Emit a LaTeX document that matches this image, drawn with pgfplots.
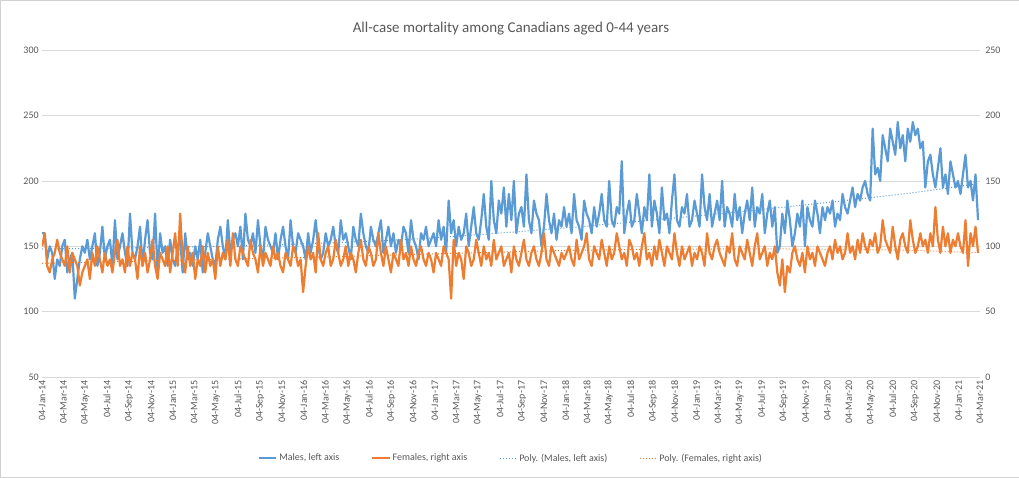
\documentclass[border=0pt]{standalone}
\usepackage{pgfplots}
\pgfplotsset{compat=1.18}
\usepackage{fontspec}
\setmainfont{Carlito}
\definecolor{mblue}{HTML}{5B9BD5}
\definecolor{morange}{HTML}{ED7D31}
\definecolor{tgray}{HTML}{595959}
\begin{document}
\begin{tikzpicture}[x=1pt,y=1pt]
\draw[gray!35,fill=white] (-42,-100) rectangle (977,377);
\pgfplotsset{every axis/.style={scale only axis, width=938pt, height=327pt, at={(0pt,0pt)}, anchor=south west,
 xmin=0, xmax=2616, axis line style={draw=none}, tick style={draw=none},
 tick label style={font=\fontsize{10}{11}\selectfont, color=tgray},
 /pgf/number format/assume math mode=true}}
\begin{axis}[
 ymin=50, ymax=300, ytick={50,100,...,300},
 ymajorgrids, grid style={color=gray!30},
 xtick={0,59,120,181,243,304,365,424,485,546,608,669,730,790,851,912,974,1035,1096,1155,1216,1277,1339,1400,1461,1520,1581,1642,1704,1765,1826,1885,1946,2007,2069,2130,2191,2251,2312,2373,2435,2496,2557,2616},
 xticklabels={04-Jan-14,04-Mar-14,04-May-14,04-Jul-14,04-Sep-14,04-Nov-14,04-Jan-15,04-Mar-15,04-May-15,04-Jul-15,04-Sep-15,04-Nov-15,04-Jan-16,04-Mar-16,04-May-16,04-Jul-16,04-Sep-16,04-Nov-16,04-Jan-17,04-Mar-17,04-May-17,04-Jul-17,04-Sep-17,04-Nov-17,04-Jan-18,04-Mar-18,04-May-18,04-Jul-18,04-Sep-18,04-Nov-18,04-Jan-19,04-Mar-19,04-May-19,04-Jul-19,04-Sep-19,04-Nov-19,04-Jan-20,04-Mar-20,04-May-20,04-Jul-20,04-Sep-20,04-Nov-20,04-Jan-21,04-Mar-21},
 xticklabel style={rotate=90, anchor=east},
 title={All-case mortality among Canadians aged 0-44 years},
 title style={font=\fontsize{15}{17}\selectfont, color=tgray, yshift=6pt},
 legend style={at={(0.5,-0.248)}, anchor=center, draw=none, legend columns=4, font=\fontsize{10}{11}\selectfont\color{tgray}, /tikz/every even column/.append style={column sep=30pt}},
 legend cell align=left,
]
\addplot[mblue, line width=2.2pt, line join=round] table[x expr=\coordindex*7, y index=0, header=false, row sep=\\] {
160\\160\\140\\150\\145\\125\\140\\135\\150\\155\\130\\140\\145\\
110\\125\\140\\150\\145\\155\\140\\150\\160\\135\\145\\165\\140\\
150\\155\\135\\170\\140\\150\\160\\145\\135\\175\\145\\140\\150\\
165\\135\\155\\170\\145\\140\\175\\130\\160\\145\\150\\135\\155\\
140\\135\\150\\155\\130\\160\\140\\145\\135\\150\\140\\155\\130\\
145\\160\\150\\140\\135\\155\\165\\150\\140\\170\\145\\155\\160\\
150\\165\\140\\175\\155\\150\\160\\145\\170\\150\\140\\165\\155\\
150\\145\\160\\140\\155\\165\\150\\140\\170\\150\\145\\160\\155\\
150\\140\\160\\145\\155\\170\\150\\140\\145\\160\\150\\155\\165\\
150\\145\\170\\155\\160\\150\\140\\165\\155\\150\\175\\160\\150\\
145\\165\\155\\150\\160\\170\\145\\155\\165\\150\\160\\145\\155\\
150\\165\\160\\145\\170\\155\\150\\140\\160\\155\\165\\150\\155\\
160\\150\\170\\155\\165\\145\\185\\160\\170\\150\\165\\155\\160\\
175\\150\\165\\180\\160\\155\\170\\190\\165\\155\\200\\170\\160\\
185\\175\\195\\165\\190\\170\\200\\160\\175\\180\\165\\205\\170\\
160\\185\\175\\170\\150\\165\\190\\170\\160\\175\\155\\170\\165\\180\\
165\\175\\160\\190\\170\\165\\155\\185\\175\\170\\160\\180\\165\\
175\\190\\170\\165\\200\\170\\165\\180\\175\\215\\160\\175\\185\\
165\\170\\190\\175\\160\\180\\170\\205\\165\\185\\175\\160\\195\\
170\\175\\160\\185\\205\\170\\165\\180\\175\\190\\165\\170\\185\\
175\\165\\205\\180\\170\\190\\165\\175\\185\\170\\200\\165\\180\\
175\\165\\190\\170\\180\\160\\175\\185\\170\\195\\165\\180\\175\\
190\\160\\175\\185\\165\\180\\145\\150\\175\\160\\185\\170\\150\\
160\\175\\165\\185\\150\\180\\170\\165\\185\\175\\160\\180\\170\\
180\\175\\185\\165\\175\\170\\190\\180\\175\\185\\195\\180\\190\\
185\\195\\200\\190\\185\\240\\205\\210\\200\\235\\225\\215\\240\\
230\\220\\245\\225\\235\\215\\240\\230\\245\\235\\240\\225\\230\\
195\\215\\220\\205\\195\\210\\225\\195\\205\\190\\215\\205\\195\\
200\\190\\205\\220\\195\\200\\185\\205\\170\\
};
\addlegendentry{Males, left axis}
\addlegendimage{morange, line width=2.2pt}
\addlegendentry{Females, right axis}
\addplot[mblue, dotted, line width=1pt, smooth] coordinates {(0,148) (500,150) (1000,155) (1500,165) (2000,178) (2400,190) (2611,198)};
\addlegendentry{Poly. (Males, left axis)}
\addlegendimage{morange, dotted, line width=1pt}
\addlegendentry{Poly. (Females, right axis)}
\end{axis}
\begin{axis}[
 ymin=0, ymax=250, ytick={0,50,...,250}, axis y line*=right, axis x line=none,
 yticklabel style={anchor=west, xshift=2pt}]
\addplot[morange, line width=2.2pt, line join=round] table[x expr=\coordindex*7, y index=0, header=false, row sep=\\] {
100\\110\\85\\80\\90\\95\\105\\95\\90\\85\\100\\80\\95\\
90\\85\\70\\80\\85\\90\\75\\95\\85\\100\\90\\80\\95\\
85\\90\\80\\95\\105\\85\\90\\80\\100\\85\\95\\90\\75\\
100\\85\\95\\80\\90\\105\\85\\75\\95\\90\\85\\100\\80\\
95\\110\\85\\125\\90\\80\\100\\85\\95\\75\\90\\85\\100\\
80\\95\\85\\90\\75\\100\\85\\95\\90\\105\\85\\110\\90\\
85\\100\\95\\90\\85\\105\\95\\90\\80\\100\\85\\95\\90\\
85\\100\\90\\95\\85\\80\\95\\90\\85\\100\\95\\85\\90\\
65\\85\\100\\90\\95\\80\\110\\90\\85\\95\\100\\85\\90\\
105\\95\\85\\90\\100\\85\\95\\90\\80\\95\\105\\90\\85\\
100\\95\\85\\90\\110\\95\\85\\100\\90\\80\\95\\90\\85\\
105\\90\\95\\85\\100\\90\\85\\95\\100\\90\\85\\95\\90\\
80\\95\\90\\85\\100\\95\\90\\60\\105\\85\\95\\90\\75\\
100\\95\\85\\90\\105\\95\\85\\100\\90\\95\\85\\105\\90\\
95\\100\\85\\90\\95\\80\\100\\90\\85\\95\\105\\90\\85\\
95\\100\\90\\85\\95\\110\\90\\85\\100\\95\\90\\85\\95\\90\\
95\\100\\90\\85\\105\\90\\95\\100\\110\\90\\85\\100\\95\\
90\\105\\95\\85\\100\\90\\95\\110\\100\\90\\95\\85\\105\\
100\\90\\95\\85\\100\\110\\90\\95\\85\\100\\90\\105\\95\\
85\\100\\95\\90\\110\\95\\85\\100\\90\\95\\100\\85\\95\\
90\\100\\95\\85\\110\\95\\90\\100\\105\\95\\90\\85\\100\\
95\\110\\90\\85\\100\\95\\90\\105\\95\\85\\100\\110\\90\\
95\\100\\85\\95\\90\\100\\80\\70\\90\\65\\85\\80\\95\\
100\\90\\85\\95\\80\\100\\90\\95\\85\\100\\95\\90\\85\\
95\\100\\90\\105\\95\\100\\90\\95\\110\\95\\100\\90\\105\\
95\\110\\100\\95\\105\\100\\110\\95\\100\\120\\105\\100\\95\\
115\\100\\90\\105\\110\\100\\95\\120\\105\\95\\100\\110\\100\\
105\\95\\110\\100\\130\\105\\95\\115\\100\\110\\95\\105\\100\\
110\\100\\95\\120\\85\\110\\100\\115\\95\\
};
\addplot[morange, dotted, line width=1pt, smooth] coordinates {(0,87) (800,92) (1500,97) (2000,98) (2400,97) (2611,95)};
\end{axis}
\end{tikzpicture}
\end{document}
